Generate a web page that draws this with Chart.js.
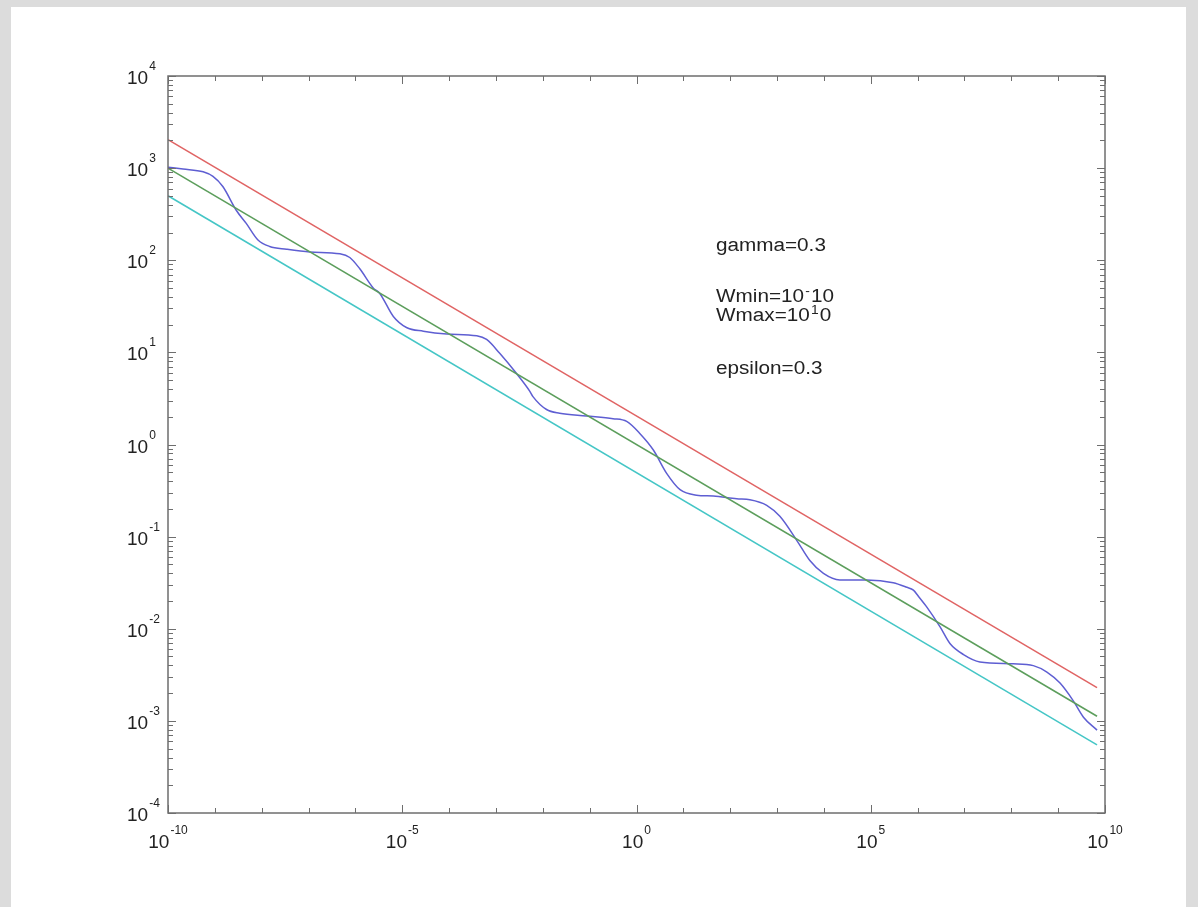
<!DOCTYPE html>
<html>
<head>
<meta charset="utf-8">
<script src="https://cdn.jsdelivr.net/npm/chart.js@4.4.0/dist/chart.umd.min.js"></script>
<style>
  html, body { margin:0; padding:0; background:#dcdcdc; width:1198px; height:907px; overflow:hidden; }
  #panel { position:absolute; left:11px; top:7px; width:1175px; height:900px; background:#fff; }
  #c { position:absolute; left:0; top:0; }
</style>
</head>
<body>
<div id="panel"></div>
<canvas id="c" width="1198" height="907"></canvas>
<script>
// values are log10 exponents
const lineX  = [-10, 9.83];
const redY   = [3.31, -2.64];
const greenY = [3.0, -2.95];
const cyanY  = [2.70, -3.26];

const blueX = [-10, -9.68, -9.25, -9.04, -8.83, -8.54, -8.33, -8.08, -7.83, -7.47, -6.97, -6.33, -6.12, -5.91,
  -5.62, -5.48, -5.19, -4.91, -4.55, -4.05, -3.41, -3.20, -2.92, -2.56, -2.28, -2.21, -1.92, -1.64, -1.07, -0.50,
  -0.21, 0.07, 0.36, 0.64, 0.93, 1.28, 1.64, 2.14, 2.42, 2.78, 3.06, 3.42, 3.70, 3.99, 4.34, 4.91, 5.48, 5.77,
  5.91, 6.02, 6.19, 6.48, 6.69, 6.98, 7.33, 8.04, 8.47, 8.76, 9.04, 9.32, 9.54, 9.83];
const blueY = [3.01, 2.99, 2.96, 2.91, 2.80, 2.54, 2.40, 2.22, 2.15, 2.12, 2.09, 2.07, 2.03, 1.91,
  1.70, 1.64, 1.39, 1.27, 1.23, 1.20, 1.18, 1.14, 0.99, 0.77, 0.58, 0.52, 0.38, 0.34, 0.31, 0.28,
  0.25, 0.12, -0.06, -0.31, -0.49, -0.55, -0.56, -0.59, -0.60, -0.66, -0.78, -1.04, -1.26, -1.40, -1.47, -1.47, -1.50, -1.55,
  -1.58, -1.65, -1.76, -1.98, -2.16, -2.28, -2.36, -2.38, -2.40, -2.47, -2.59, -2.78, -2.96, -3.10];

const xTickExp   = [-10,-9,-8,-7,-6,-5,-4,-3,-2,-1,0,1,2,3,4,5,6,7,8,9,10];
const xLabelExp  = [-10, -5, 0, 5, 10];
const yLabelExp  = [-4,-3,-2,-1,0,1,2,3,4];
const yMinorMult = [2,3,4,5,6,7,8,9];

const notes = [
  { text:'gamma=0.3' },
  { text:'Wmin=10', sup:'-', tail:'10' },
  { text:'Wmax=10', sup:'1', tail:'0' },
  { text:'epsilon=0.3' },
];

const pts = (xs, ys) => xs.map((e, i) => ({ x: Math.pow(10, e), y: Math.pow(10, ys[i]) }));

const FONT = '"Liberation Sans", Arial, Helvetica, sans-serif';
const AXIS = '#6e6e6e';

const matlabAxes = {
  id: 'matlabAxes',
  afterDraw(chart) {
    const ctx = chart.ctx, a = chart.chartArea;
    const sx = chart.scales.x, sy = chart.scales.y;
    ctx.save();
    ctx.strokeStyle = AXIS;
    ctx.lineWidth = 1.5;
    ctx.strokeRect(a.left, a.top, a.right - a.left, a.bottom - a.top);

    ctx.lineWidth = 1;
    ctx.beginPath();
    xTickExp.forEach(e => {
      const px = Math.round(sx.getPixelForValue(Math.pow(10, e))) + 0.5;
      const len = xLabelExp.includes(e) ? 8 : 5;
      ctx.moveTo(px, a.bottom); ctx.lineTo(px, a.bottom - len);
      ctx.moveTo(px, a.top); ctx.lineTo(px, a.top + len);
    });
    yLabelExp.forEach(e => {
      const ticks = [{ v: Math.pow(10, e), len: 8 }];
      if (e < 4) yMinorMult.forEach(m => ticks.push({ v: m * Math.pow(10, e), len: 5 }));
      ticks.forEach(t => {
        const py = Math.round(sy.getPixelForValue(t.v)) + 0.5;
        ctx.moveTo(a.left, py); ctx.lineTo(a.left + t.len, py);
        ctx.moveTo(a.right, py); ctx.lineTo(a.right - t.len, py);
      });
    });
    ctx.stroke();

    // tick labels 10^n
    ctx.fillStyle = '#222';
    ctx.textBaseline = 'alphabetic';
    ctx.textAlign = 'left';
    const big = '19px ' + FONT, small = '12px ' + FONT;
    xLabelExp.forEach(e => {
      const px = sx.getPixelForValue(Math.pow(10, e));
      ctx.font = big; const w1 = ctx.measureText('10').width;
      ctx.font = small; const w2 = ctx.measureText(String(e)).width;
      const x0 = px - (w1 + w2 + 1) / 2;
      ctx.font = big; ctx.fillText('10', x0, a.bottom + 35);
      ctx.font = small; ctx.fillText(String(e), x0 + w1 + 1, a.bottom + 21);
    });
    yLabelExp.forEach(e => {
      const py = sy.getPixelForValue(Math.pow(10, e));
      ctx.font = big; const w1 = ctx.measureText('10').width;
      ctx.fillText('10', 127, py + 8);
      ctx.font = small; ctx.fillText(String(e), 127 + w1 + 1, py - 6);
    });

    // annotation text
    const baselines = [251, 302, 321, 374];
    notes.forEach((n, i) => {
      ctx.save();
      ctx.translate(716, baselines[i]);
      ctx.scale(1.15, 1);
      ctx.font = '18px ' + FONT;
      ctx.fillText(n.text, 0, 0);
      if (n.sup) {
        let x = ctx.measureText(n.text).width + 1;
        ctx.font = '12px ' + FONT;
        ctx.fillText(n.sup, x, -7);
        x += ctx.measureText(n.sup).width + 1;
        ctx.font = '18px ' + FONT;
        ctx.fillText(n.tail, x, 0);
      }
      ctx.restore();
    });
    ctx.restore();
  }
};

const lineStyle = (color) => ({ borderColor: color, borderWidth: 1.5, pointRadius: 0, fill: false });

new Chart(document.getElementById('c'), {
  type: 'line',
  data: {
    datasets: [
      { data: pts(lineX, redY), ...lineStyle('#e06464') },
      { data: pts(lineX, greenY), ...lineStyle('#5c9e5c') },
      { data: pts(lineX, cyanY), ...lineStyle('#45c6c6') },
      { data: pts(blueX, blueY), ...lineStyle('#5e5ed2'), cubicInterpolationMode: 'monotone' },
    ]
  },
  options: {
    responsive: false,
    animation: false,
    layout: { padding: { left: 168, right: 93, top: 76, bottom: 94 } },
    plugins: { legend: { display: false }, tooltip: { enabled: false } },
    scales: {
      x: {
        type: 'logarithmic', min: 1e-10, max: 1e10,
        grid: { display: false }, border: { display: false }, ticks: { display: false },
        afterFit: s => { s.height = 0; }
      },
      y: {
        type: 'logarithmic', min: 1e-4, max: 1e4,
        grid: { display: false }, border: { display: false }, ticks: { display: false },
        afterFit: s => { s.width = 0; }
      }
    }
  },
  plugins: [matlabAxes]
});
</script>
</body>
</html>
